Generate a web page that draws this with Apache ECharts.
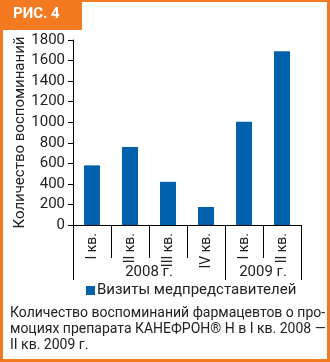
<!DOCTYPE html>
<html>
<head>
<meta charset="utf-8">
<script src="https://cdn.jsdelivr.net/npm/echarts@6/dist/echarts.min.js"></script>
<style>html,body{margin:0;padding:0;background:#fff}#c{width:330px;height:362px}</style>
</head>
<body>
<div id="c"></div>
<script>
const quarters = ['I кв.', 'II кв.', 'III кв.', 'IV кв.', 'I кв.', 'II кв.'];
const yearLabels = ['', '', '2008 г.', '', '', '2009 г.', ''];
const yearBoundaries = [0, 4, 6];
const visits = [580, 760, 420, 175, 1005, 1690];
const seriesName = 'Визиты медпредставителей';
const yAxisName = 'Количество воспоминаний';
const figLabel = 'РИС. 4';
const caption = 'Количество воспоминаний фармацевтов о про-\nмоциях препарата КАНЕФРОН® Н в I кв. 2008 —\nII кв. 2009 г.';

const ORANGE = '#F37A21';
const BLUE = '#0062AD';
const TXT = '#222';
const FONT = 'Roboto';

const chart = echarts.init(document.getElementById('c'), null, {renderer: 'canvas'});
chart.setOption({
  animation: false,
  backgroundColor: '#fff',
  textStyle: {fontFamily: FONT},
  graphic: [
    {type: 'rect', shape: {x: 0, y: 0, width: 330, height: 2}, style: {fill: ORANGE}, silent: true},
    {type: 'rect', shape: {x: 0, y: 0, width: 3, height: 362}, style: {fill: ORANGE}, silent: true},
    {type: 'rect', shape: {x: 327, y: 0, width: 3, height: 362}, style: {fill: ORANGE}, silent: true},
    {type: 'rect', shape: {x: 0, y: 359, width: 330, height: 3}, style: {fill: ORANGE}, silent: true},
    {type: 'rect', shape: {x: 0, y: 0, width: 82, height: 30}, style: {fill: ORANGE}, silent: true},
    {type: 'text', left: 13, top: 7, style: {text: figLabel, fill: '#fff', font: 'bold 15px ' + FONT}, silent: true}
  ],
  title: [{
    text: caption,
    left: 10,
    top: 305,
    padding: 0,
    textStyle: {fontFamily: FONT, fontSize: 14, fontWeight: 'normal', color: TXT, lineHeight: 16}
  }],
  legend: {
    data: [seriesName],
    left: 86,
    top: 283,
    icon: 'rect',
    itemWidth: 9,
    itemHeight: 9,
    padding: 0,
    textStyle: {fontFamily: FONT, fontSize: 15, color: TXT, padding: [0, 0, 0, -3]}
  },
  grid: {left: 73, right: 29, top: 40, bottom: 137, containLabel: false},
  xAxis: [{
    type: 'category',
    data: quarters,
    position: 'bottom',
    boundaryGap: true,
    axisLine: {show: true, lineStyle: {color: '#000', width: 1}},
    axisTick: {show: true, length: 33, interval: 0, lineStyle: {color: '#000'}},
    axisLabel: {rotate: 90, margin: 8, interval: 0, fontSize: 14, color: TXT, fontFamily: FONT}
  }, {
    type: 'category',
    data: yearLabels,
    position: 'bottom',
    offset: 0,
    boundaryGap: false,
    axisLine: {show: false},
    axisTick: {show: true, length: 55, interval: function (i) { return yearBoundaries.indexOf(i) >= 0; }, lineStyle: {color: '#000'}},
    axisLabel: {margin: 40, interval: 0, fontSize: 15, color: TXT, fontFamily: FONT}
  }],
  yAxis: {
    type: 'value',
    min: 0,
    max: 1800,
    interval: 200,
    name: yAxisName,
    nameLocation: 'middle',
    nameGap: 45,
    nameMoveOverlap: false,
    nameTextStyle: {fontSize: 15, color: TXT, fontFamily: FONT},
    axisLine: {show: true, lineStyle: {color: '#000', width: 1}},
    axisTick: {show: true, length: 5, lineStyle: {color: '#000'}},
    axisLabel: {fontSize: 15, color: TXT, margin: 8, fontFamily: FONT, formatter: function (v) { return String(v); }},
    splitLine: {show: false}
  },
  series: [{
    name: seriesName,
    type: 'bar',
    xAxisIndex: 0,
    data: visits,
    barWidth: 16,
    itemStyle: {color: BLUE}
  }]
});
</script>
</body>
</html>
